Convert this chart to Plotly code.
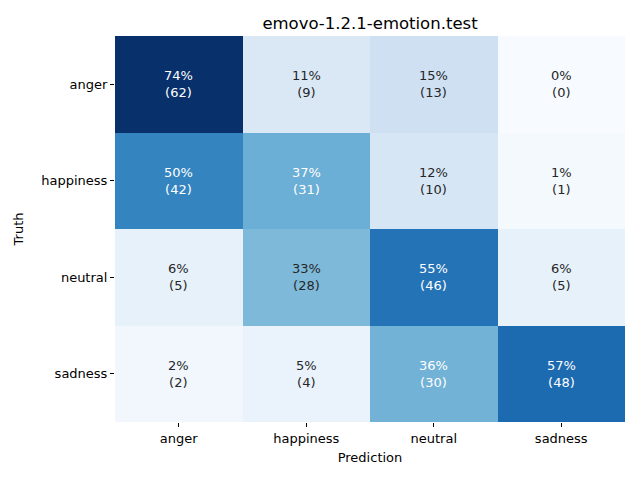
import plotly.graph_objects as go
import plotly.colors as pc

labels = ["anger", "happiness", "neutral", "sadness"]
counts = [
    [62, 9, 13, 0],
    [42, 31, 10, 1],
    [5, 28, 46, 5],
    [2, 4, 30, 48],
]
title = "emovo-1.2.1-emotion.test"

frac = [[c / sum(row) for c in row] for row in counts]
zmax = max(max(r) for r in frac)

fig = go.Figure(go.Heatmap(
    z=frac, x=labels, y=labels,
    colorscale=[[i / 8, c] for i, c in enumerate(pc.sequential.Blues)],
    zmin=0, zmax=zmax, showscale=False, xgap=0, ygap=0,
    hoverinfo="skip",
))

for i, yl in enumerate(labels):
    for j, xl in enumerate(labels):
        v = frac[i][j]
        col = "white" if v / zmax > 0.47 else "#262626"
        fig.add_annotation(x=xl, y=yl, text=f"{round(v*100)}%<br>({counts[i][j]})",
                           showarrow=False, font=dict(color=col, size=13))

fig.update_layout(
    width=640, height=480,
    margin=dict(l=107, r=23, t=28, b=66, autoexpand=False),
    plot_bgcolor="white", paper_bgcolor="white",
    font=dict(family="DejaVu Sans", size=13, color="black"),
    title=dict(text=title, x=362 / 640, xanchor="center", y=1 - 15 / 480, yanchor="middle",
               font=dict(size=16.5)),
)
fig.update_xaxes(title=dict(text="Prediction", standoff=8, font=dict(size=13)), ticks="outside", ticklen=4,
                 tickcolor="black", automargin=False,
                 showgrid=False, zeroline=False, showline=False)
fig.update_yaxes(title=dict(text="Truth", standoff=14, font=dict(size=13)), ticks="outside", ticklen=4,
                 tickcolor="black", automargin=False,
                 autorange="reversed", showgrid=False, zeroline=False, showline=False)

fig.write_html("out.html")
